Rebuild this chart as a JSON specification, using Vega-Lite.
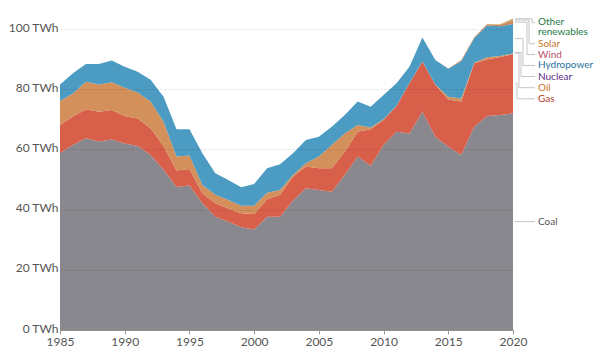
{
  "$schema": "https://vega.github.io/schema/vega-lite/v6.json",
  "width": 453,
  "height": 301,
  "autosize": "none",
  "padding": {"left": 60, "top": 29, "right": 87, "bottom": 34},
  "background": "white",
  "config": {"view": {"stroke": null}, "font": "Lato"},
  "datasets": {
    "energy": [
      {"year": 1985, "Coal": 58.7, "Gas": 9.4, "Oil": 8.0, "Nuclear": 0, "Hydropower": 5.5, "Wind": 0, "Solar": 0, "Other renewables": 0},
      {"year": 1986, "Coal": 61.5, "Gas": 9.4, "Oil": 7.7, "Nuclear": 0, "Hydropower": 6.7, "Wind": 0, "Solar": 0, "Other renewables": 0},
      {"year": 1987, "Coal": 63.7, "Gas": 9.6, "Oil": 9.2, "Nuclear": 0, "Hydropower": 5.9, "Wind": 0, "Solar": 0, "Other renewables": 0},
      {"year": 1988, "Coal": 62.6, "Gas": 9.9, "Oil": 9.1, "Nuclear": 0, "Hydropower": 6.8, "Wind": 0, "Solar": 0, "Other renewables": 0},
      {"year": 1989, "Coal": 63.3, "Gas": 9.8, "Oil": 9.2, "Nuclear": 0, "Hydropower": 7.2, "Wind": 0, "Solar": 0, "Other renewables": 0},
      {"year": 1990, "Coal": 62.0, "Gas": 9.1, "Oil": 9.4, "Nuclear": 0, "Hydropower": 7.0, "Wind": 0, "Solar": 0, "Other renewables": 0},
      {"year": 1991, "Coal": 61.1, "Gas": 9.2, "Oil": 8.6, "Nuclear": 0, "Hydropower": 6.9, "Wind": 0, "Solar": 0, "Other renewables": 0},
      {"year": 1992, "Coal": 58.1, "Gas": 8.9, "Oil": 8.9, "Nuclear": 0, "Hydropower": 7.2, "Wind": 0, "Solar": 0, "Other renewables": 0},
      {"year": 1993, "Coal": 53.2, "Gas": 7.9, "Oil": 8.1, "Nuclear": 0, "Hydropower": 8.3, "Wind": 0, "Solar": 0, "Other renewables": 0},
      {"year": 1994, "Coal": 47.5, "Gas": 5.5, "Oil": 4.6, "Nuclear": 0, "Hydropower": 9.1, "Wind": 0, "Solar": 0, "Other renewables": 0},
      {"year": 1995, "Coal": 48.0, "Gas": 5.5, "Oil": 4.5, "Nuclear": 0, "Hydropower": 8.7, "Wind": 0, "Solar": 0, "Other renewables": 0},
      {"year": 1996, "Coal": 42.1, "Gas": 3.3, "Oil": 2.8, "Nuclear": 0, "Hydropower": 10.5, "Wind": 0, "Solar": 0, "Other renewables": 0},
      {"year": 1997, "Coal": 37.6, "Gas": 4.5, "Oil": 2.8, "Nuclear": 0, "Hydropower": 7.2, "Wind": 0, "Solar": 0, "Other renewables": 0},
      {"year": 1998, "Coal": 36.0, "Gas": 4.4, "Oil": 2.8, "Nuclear": 0, "Hydropower": 6.6, "Wind": 0, "Solar": 0, "Other renewables": 0},
      {"year": 1999, "Coal": 34.1, "Gas": 4.7, "Oil": 2.5, "Nuclear": 0, "Hydropower": 6.1, "Wind": 0, "Solar": 0, "Other renewables": 0},
      {"year": 2000, "Coal": 33.4, "Gas": 5.1, "Oil": 2.8, "Nuclear": 0, "Hydropower": 7.2, "Wind": 0, "Solar": 0, "Other renewables": 0},
      {"year": 2001, "Coal": 37.6, "Gas": 5.8, "Oil": 2.2, "Nuclear": 0, "Hydropower": 8.1, "Wind": 0, "Solar": 0, "Other renewables": 0},
      {"year": 2002, "Coal": 37.6, "Gas": 7.3, "Oil": 1.6, "Nuclear": 0, "Hydropower": 8.6, "Wind": 0, "Solar": 0, "Other renewables": 0},
      {"year": 2003, "Coal": 43.0, "Gas": 7.9, "Oil": 0.6, "Nuclear": 0, "Hydropower": 7.2, "Wind": 0, "Solar": 0, "Other renewables": 0},
      {"year": 2004, "Coal": 47.1, "Gas": 7.2, "Oil": 1.1, "Nuclear": 0, "Hydropower": 7.7, "Wind": 0, "Solar": 0, "Other renewables": 0},
      {"year": 2005, "Coal": 46.5, "Gas": 7.2, "Oil": 3.9, "Nuclear": 0, "Hydropower": 6.6, "Wind": 0, "Solar": 0, "Other renewables": 0},
      {"year": 2006, "Coal": 45.9, "Gas": 7.8, "Oil": 7.8, "Nuclear": 0, "Hydropower": 6.0, "Wind": 0, "Solar": 0, "Other renewables": 0},
      {"year": 2007, "Coal": 51.5, "Gas": 7.7, "Oil": 6.1, "Nuclear": 0, "Hydropower": 6.1, "Wind": 0, "Solar": 0, "Other renewables": 0},
      {"year": 2008, "Coal": 57.6, "Gas": 8.3, "Oil": 2.2, "Nuclear": 0, "Hydropower": 7.8, "Wind": 0, "Solar": 0, "Other renewables": 0},
      {"year": 2009, "Coal": 54.6, "Gas": 12.1, "Oil": 0.6, "Nuclear": 0, "Hydropower": 6.9, "Wind": 0, "Solar": 0, "Other renewables": 0},
      {"year": 2010, "Coal": 61.5, "Gas": 8.3, "Oil": 0.2, "Nuclear": 0, "Hydropower": 8.1, "Wind": 0, "Solar": 0, "Other renewables": 0},
      {"year": 2011, "Coal": 65.9, "Gas": 8.5, "Oil": 0.1, "Nuclear": 0, "Hydropower": 7.5, "Wind": 0, "Solar": 0, "Other renewables": 0},
      {"year": 2012, "Coal": 65.3, "Gas": 16.7, "Oil": 0.1, "Nuclear": 0, "Hydropower": 5.4, "Wind": 0, "Solar": 0, "Other renewables": 0},
      {"year": 2013, "Coal": 72.5, "Gas": 16.6, "Oil": 0.1, "Nuclear": 0, "Hydropower": 8.0, "Wind": 0, "Solar": 0, "Other renewables": 0},
      {"year": 2014, "Coal": 64.2, "Gas": 17.3, "Oil": 0.1, "Nuclear": 0, "Hydropower": 8.1, "Wind": 0, "Solar": 0, "Other renewables": 0},
      {"year": 2015, "Coal": 60.9, "Gas": 15.7, "Oil": 0.9, "Nuclear": 0, "Hydropower": 9.3, "Wind": 0.1, "Solar": 0, "Other renewables": 0},
      {"year": 2016, "Coal": 58.1, "Gas": 17.8, "Oil": 1.0, "Nuclear": 0, "Hydropower": 12.4, "Wind": 0.3, "Solar": 0.1, "Other renewables": 0},
      {"year": 2017, "Coal": 67.5, "Gas": 21.1, "Oil": 0.2, "Nuclear": 0, "Hydropower": 8.1, "Wind": 0.3, "Solar": 0.1, "Other renewables": 0},
      {"year": 2018, "Coal": 71.1, "Gas": 18.8, "Oil": 0.7, "Nuclear": 0, "Hydropower": 10.6, "Wind": 0.4, "Solar": 0.1, "Other renewables": 0},
      {"year": 2019, "Coal": 71.4, "Gas": 19.3, "Oil": 0.3, "Nuclear": 0, "Hydropower": 9.9, "Wind": 0.5, "Solar": 0.2, "Other renewables": 0},
      {"year": 2020, "Coal": 72.0, "Gas": 19.6, "Oil": 0.3, "Nuclear": 0, "Hydropower": 9.8, "Wind": 1.1, "Solar": 0.6, "Other renewables": 0.1}
    ],
    "sources": [
      {"source": "Coal", "rank": 1},
      {"source": "Gas", "rank": 2},
      {"source": "Oil", "rank": 3},
      {"source": "Nuclear", "rank": 4},
      {"source": "Hydropower", "rank": 5},
      {"source": "Wind", "rank": 6},
      {"source": "Solar", "rank": 7},
      {"source": "Other renewables", "rank": 8}
    ],
    "labels": [
      {"source": "Other renewables", "name": "Other\nrenewables", "from": 2020.15, "anchor": 103.4, "elbow": 2021.47, "to": 2021.7, "ly": 102.1, "ty": 102.4},
      {"source": "Solar", "name": "Solar", "from": 2020.15, "anchor": 103.0, "elbow": 2021.24, "to": 2021.7, "ly": 95.1, "ty": 95.1},
      {"source": "Wind", "name": "Wind", "from": 2020.15, "anchor": 102.3, "elbow": 2021.08, "to": 2021.7, "ly": 91.5, "ty": 91.5},
      {"source": "Hydropower", "name": "Hydropower", "from": 2020.15, "anchor": 96.8, "elbow": 2020.77, "to": 2021.7, "ly": 87.9, "ty": 87.9},
      {"source": "Nuclear", "name": "Nuclear", "from": 2020.15, "anchor": 92.2, "elbow": 2020.62, "to": 2021.7, "ly": 84.2, "ty": 84.2},
      {"source": "Oil", "name": "Oil", "from": 2020.15, "anchor": 92.0, "elbow": 2020.46, "to": 2021.7, "ly": 80.5, "ty": 80.5},
      {"source": "Gas", "name": "Gas", "from": 2020.15, "anchor": 82.0, "elbow": 2020.31, "to": 2021.7, "ly": 76.8, "ty": 76.8},
      {"source": "Coal", "name": "Coal", "from": 2020.15, "anchor": 36.0, "elbow": 2020.31, "to": 2021.7, "ly": 36.0, "ty": 36.0}
    ]
  },
  "resolve": {"scale": {"color": "independent"}},
  "layer": [
    {
      "data": {"name": "energy"},
      "transform": [
        {"fold": ["Coal", "Gas", "Oil", "Nuclear", "Hydropower", "Wind", "Solar", "Other renewables"], "as": ["source", "twh"]},
        {"lookup": "source", "from": {"data": {"name": "sources"}, "key": "source", "fields": ["rank"]}}
      ],
      "mark": {"type": "area", "interpolate": "linear"},
      "encoding": {
        "x": {
          "field": "year", "type": "quantitative",
          "scale": {"domain": [1985, 2020], "nice": false, "zero": false},
          "axis": {"values": [1985, 1990, 1995, 2000, 2005, 2010, 2015, 2020], "format": "d", "title": null, "grid": false, "tickSize": 4, "tickColor": "#999", "domainColor": "#999", "labelFontSize": 12, "labelColor": "#555", "labelPadding": 2, "labelFlush": false}
        },
        "y": {
          "field": "twh", "type": "quantitative", "stack": "zero",
          "scale": {"domain": [0, 100], "nice": false},
          "axis": {"values": [0, 20, 40, 60, 80, 100], "labelExpr": "datum.value + ' TWh'", "title": null, "grid": true, "gridDash": [2, 2], "gridColor": "#000", "gridOpacity": 0.13, "domain": false, "ticks": false, "labelPadding": 2, "labelFontSize": 12, "labelColor": "#555", "labelBaseline": "bottom", "labelOffset": 5, "zindex": 1}
        },
        "order": {"field": "rank", "type": "quantitative", "sort": "ascending"},
        "color": {
          "field": "source", "type": "nominal",
          "scale": {
            "domain": ["Coal", "Gas", "Oil", "Nuclear", "Hydropower", "Wind", "Solar", "Other renewables"],
            "range": ["#88888e", "#d85f4a", "#d3905a", "#8a5fb0", "#4c9bc2", "#c9845a", "#d7a35c", "#7ea46a"]
          },
          "legend": null
        }
      }
    },
    {
      "data": {"name": "labels"},
      "mark": {"type": "rule", "color": "#c4c4c4", "strokeWidth": 1},
      "encoding": {
        "x": {"field": "from", "type": "quantitative"},
        "x2": {"field": "elbow"},
        "y": {"field": "anchor", "type": "quantitative"}
      }
    },
    {
      "data": {"name": "labels"},
      "mark": {"type": "rule", "color": "#c4c4c4", "strokeWidth": 1},
      "encoding": {
        "x": {"field": "elbow", "type": "quantitative"},
        "y": {"field": "anchor", "type": "quantitative"},
        "y2": {"field": "ly"}
      }
    },
    {
      "data": {"name": "labels"},
      "mark": {"type": "rule", "color": "#c4c4c4", "strokeWidth": 1},
      "encoding": {
        "x": {"field": "elbow", "type": "quantitative"},
        "x2": {"field": "to"},
        "y": {"field": "ly", "type": "quantitative"}
      }
    },
    {
      "data": {"name": "labels"},
      "mark": {"type": "text", "align": "left", "baseline": "middle", "dx": 3, "fontSize": 10, "lineBreak": "\n", "lineHeight": 10.4},
      "encoding": {
        "x": {"field": "to", "type": "quantitative"},
        "y": {"field": "ty", "type": "quantitative"},
        "text": {"field": "name", "type": "nominal"},
        "color": {
          "field": "source", "type": "nominal",
          "scale": {
            "domain": ["Coal", "Gas", "Oil", "Nuclear", "Hydropower", "Wind", "Solar", "Other renewables"],
            "range": ["#555555", "#b53a28", "#c9742a", "#5b2c86", "#2a72a0", "#b8506a", "#c9742a", "#1d7a45"]
          },
          "legend": null
        }
      }
    }
  ]
}
